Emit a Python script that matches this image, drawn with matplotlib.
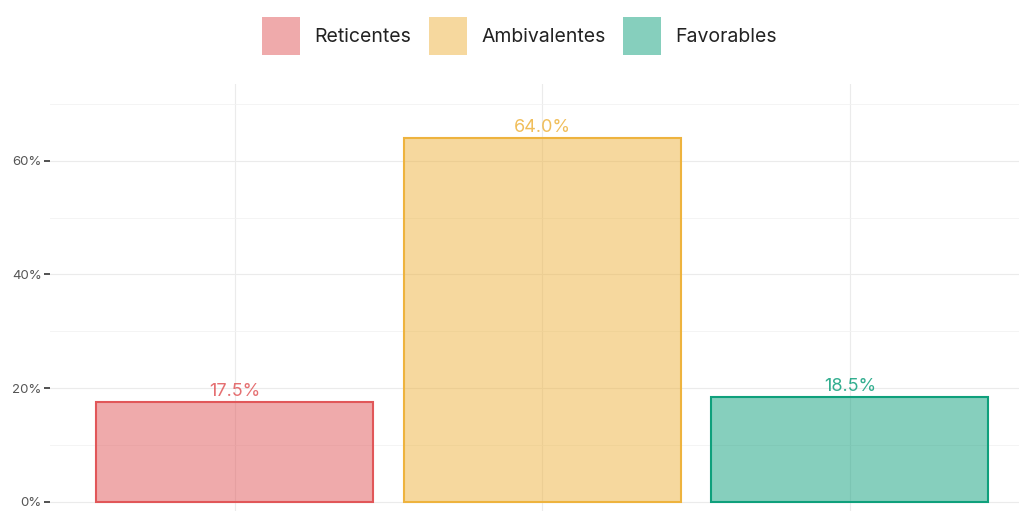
import matplotlib
matplotlib.use("Agg")
import matplotlib.pyplot as plt
from matplotlib.patches import Patch
from matplotlib.ticker import MultipleLocator, FuncFormatter

# Data
categories = ["Reticentes", "Ambivalentes", "Favorables"]
values = [17.5, 64.0, 18.5]
colors = ["#E15759", "#EEB33E", "#0FA07C"]

plt.rcParams["font.family"] = ["Inter", "DejaVu Sans"]

fig = plt.figure(figsize=(10.19, 5.11), dpi=100)
ax = fig.add_axes([50 / 1019, 0, 969 / 1019, (511 - 84) / 511])

positions = list(range(1, len(categories) + 1))
for pos, val, col in zip(positions, values, colors):
    ax.bar(pos, val, width=0.9, facecolor=col, alpha=0.5, edgecolor="none", zorder=2)
    ax.bar(pos, val, width=0.9, facecolor="none", edgecolor=col, linewidth=1.5, zorder=3)
    ax.annotate(f"{val:.1f}%", (pos, val), xytext=(0, 1.5), textcoords="offset points",
                ha="center", va="bottom", color=col, alpha=0.85, fontsize=13, zorder=4)

ax.set_xlim(0.4, 3.55)
ax.set_ylim(-1.6, 73.5)

ax.yaxis.set_major_locator(MultipleLocator(20))
ax.yaxis.set_minor_locator(MultipleLocator(10))
ax.yaxis.set_major_formatter(FuncFormatter(lambda v, p: f"{v:.0f}%"))
ax.set_xticks(positions)
ax.set_xticklabels([])
ax.tick_params(axis="x", length=0)
ax.tick_params(axis="y", which="major", length=4, width=1.2, color="#333333",
               labelcolor="#555555", labelsize=9.5, pad=2)
ax.tick_params(axis="y", which="minor", length=0)

ax.grid(True, which="major", axis="both", color="#EBEBEB", linewidth=0.8, zorder=0)
ax.grid(True, which="minor", axis="y", color="#F2F2F2", linewidth=0.6, zorder=0)
ax.set_axisbelow(True)
for s in ax.spines.values():
    s.set_visible(False)

handles = [Patch(facecolor=c, alpha=0.5, edgecolor="none") for c in colors]
fig.legend(handles, categories, loc="center", bbox_to_anchor=(519.5 / 1019, 1 - 36 / 511),
           ncol=3, frameon=False, fontsize=14, handlelength=1.96, handleheight=2.67,
           handletextpad=0.74, columnspacing=0.9, labelcolor="#222222")

fig.savefig("out.png", dpi=100)
